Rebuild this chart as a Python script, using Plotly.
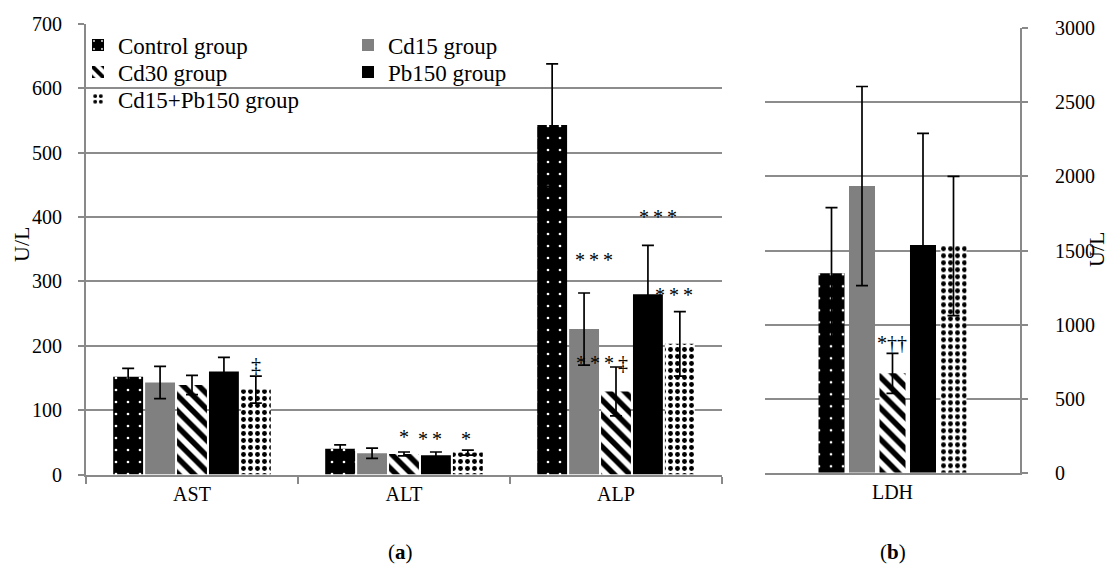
import plotly.graph_objects as go

# ---------------- data ----------------
groups = ["Control group", "Cd15 group", "Cd30 group", "Pb150 group", "Cd15+Pb150 group"]
cats_a = ["AST", "ALT", "ALP"]
cats_b = ["LDH"]

control_a = [152, 40, 543]
cd15_a = [143, 33, 226]
cd30_a = [139, 32, 129]
pb150_a = [160, 30, 280]
combo_a = [132, 34, 203]

control_a_err = [13, 6, 95]
cd15_a_err = [25, 8, 56]
cd30_a_err = [15, 3, 38]
pb150_a_err = [22, 5, 76]
combo_a_err = [21, 4, 50]

control_b = [1346]
cd15_b = [1935]
cd30_b = [671]
pb150_b = [1537]
combo_b = [1530]

control_b_err = [443]
cd15_b_err = [672]
cd30_b_err = [135]
pb150_b_err = [754]
combo_b_err = [470]

# significance marks: (category, text, y value, bar slot)
marks_a = [
    ("AST", "‡", 170, 2.0),
    ("ALT", "*", 66, 0.0),
    ("ALT", "*\u2009*", 63, 0.8),
    ("ALT", "*", 63, 1.95),
    ("ALP", "*\u2009*\u2009*", 341, -0.7),
    ("ALP", "*\u2009*\u2009*\u2009‡", 181, -0.45),
    ("ALP", "*\u2009*\u2009*", 408, 1.3),
    ("ALP", "*\u2009*\u2009*", 287, 1.8),
]
marks_b = [("LDH", "*††", 884, -0.02)]

# ---------------- styles ----------------
FONT = "Liberation Serif, DejaVu Serif, serif"
GRID = "#8c8c8c"
AXIS = "#898989"

styles = {
    "Control group": dict(color="black", pattern=dict(shape=".", bgcolor="black", fgcolor="white",
                                                      size=12, solidity=0.04, fillmode="replace")),
    "Cd15 group": dict(color="#808080"),
    "Cd30 group": dict(color="white", pattern=dict(shape="\\", bgcolor="white", fgcolor="black",
                                                   size=11, solidity=0.5, fillmode="replace")),
    "Pb150 group": dict(color="black"),
    "Cd15+Pb150 group": dict(color="white", pattern=dict(shape=".", bgcolor="white", fgcolor="black",
                                                         size=7, solidity=0.38, fillmode="replace")),
}
# legend slot per group: (legend id, text-left x px, row centre y px)
legend_pos = {
    "Control group": ("legend", 118, 45),
    "Cd30 group": ("legend2", 118, 72),
    "Cd15+Pb150 group": ("legend3", 118, 99),
    "Cd15 group": ("legend4", 388, 45),
    "Pb150 group": ("legend5", 388, 72),
}

vals_a = [control_a, cd15_a, cd30_a, pb150_a, combo_a]
errs_a = [control_a_err, cd15_a_err, cd30_a_err, pb150_a_err, combo_a_err]
vals_b = [control_b, cd15_b, cd30_b, pb150_b, combo_b]
errs_b = [control_b_err, cd15_b_err, cd30_b_err, pb150_b_err, combo_b_err]

# bar geometry (category units)
sp_a, w_a = 0.1506, 0.141
sp_b, w_b = 0.1196, 0.102

fig = go.Figure()
for i, g in enumerate(groups):
    st = styles[g]
    marker = dict(color=st["color"], line=dict(width=0))
    if "pattern" in st:
        marker["pattern"] = st["pattern"]
    fig.add_trace(go.Bar(
        x=cats_a, y=vals_a[i], name=g, marker=marker,
        width=w_a, offset=(i - 2) * sp_a - w_a / 2,
        error_y=dict(type="data", array=errs_a[i], color="black", thickness=1.7, width=6),
        xaxis="x", yaxis="y", legend=legend_pos[g][0], showlegend=True,
    ))
    fig.add_trace(go.Bar(
        x=cats_b, y=vals_b[i], name=g, marker=marker,
        width=w_b, offset=(i - 2) * sp_b - w_b / 2,
        error_y=dict(type="data", array=errs_b[i], color="black", thickness=1.7, width=6),
        xaxis="x2", yaxis="y2", showlegend=False,
    ))

annotations = []
for cat, txt, yv, slot in marks_a:
    annotations.append(dict(x=cat, y=yv, xref="x", yref="y", text=txt, showarrow=False,
                            xshift=slot * 32, yshift=-5 if "*" in txt else 0,
                            font=dict(family=FONT, size=20, color="black")))
for cat, txt, yv, slot in marks_b:
    annotations.append(dict(x=cat, y=yv, xref="x2", yref="y2", text=txt, showarrow=False,
                            xshift=slot * 30.5, yshift=-1,
                            font=dict(family=FONT, size=20, color="black")))

paper_ann = dict(xref="paper", yref="paper", xanchor="center", yanchor="middle", showarrow=False)
annotations += [
    dict(x=21 / 1113, y=1 - 245 / 581, text="U/L", textangle=-90,
         font=dict(family=FONT, size=22, color="black"), **paper_ann),
    dict(x=1096 / 1113, y=1 - 250 / 581, text="U/L", textangle=-90,
         font=dict(family=FONT, size=22, color="black"), **paper_ann),
    dict(x=400 / 1113, y=1 - 552 / 581, text="(<b>a</b>)",
         font=dict(family=FONT, size=21, color="black"), **paper_ann),
    dict(x=893 / 1113, y=1 - 552 / 581, text="(<b>b</b>)",
         font=dict(family=FONT, size=21, color="black"), **paper_ann),
]

legends = {}
for g, (lid, tx, ty) in legend_pos.items():
    legends[lid] = dict(x=(tx - 40) / 1113, y=1 - ty / 581, xanchor="left", yanchor="middle",
                        font=dict(family=FONT, size=23, color="black"), bgcolor="rgba(0,0,0,0)",
                        orientation="v", itemclick=False, itemdoubleclick=False)

fig.update_layout(
    width=1113, height=581,
    margin=dict(l=0, r=0, t=0, b=0, autoexpand=False),
    paper_bgcolor="white", plot_bgcolor="white",
    font=dict(family=FONT, size=20, color="black"),
    barmode="overlay",
    xaxis=dict(domain=[86 / 1113, 722 / 1113], anchor="y", type="category", automargin=False,
               categoryorder="array", categoryarray=cats_a, range=[-0.5, 2.5],
               showline=True, linecolor=AXIS, linewidth=2, ticks="outside", tickson="boundaries",
               ticklen=7, tickcolor=AXIS, tickwidth=2, showgrid=False,
               tickfont=dict(family=FONT, size=20, color="black")),
    yaxis=dict(domain=[1 - 474.5 / 581, 1 - 24 / 581], anchor="x", range=[0, 700], dtick=100,
               automargin=False, ticklabelstandoff=12,
               showline=True, linecolor=AXIS, linewidth=2, ticks="outside", ticklen=6,
               tickcolor=AXIS, tickwidth=2, gridcolor=GRID, gridwidth=1.8, zeroline=False,
               tickfont=dict(family=FONT, size=20, color="black")),
    xaxis2=dict(domain=[765 / 1113, 1020 / 1113], anchor="y2", type="category", automargin=False,
                range=[-0.5, 0.5], showline=True, linecolor=AXIS, linewidth=2, ticks="",
                showgrid=False, tickfont=dict(family=FONT, size=20, color="black")),
    yaxis2=dict(domain=[1 - 472.7 / 581, 1 - 28.3 / 581], anchor="x2", side="right",
                range=[0, 3000], dtick=500, automargin=False, ticklabelstandoff=23,
                showline=True, linecolor=AXIS, linewidth=2,
                ticks="outside", ticklen=6, tickcolor=AXIS, tickwidth=2, gridcolor=GRID,
                gridwidth=1.8, zeroline=False, tickfont=dict(family=FONT, size=20, color="black")),
    annotations=annotations,
    showlegend=True,
    **legends,
)

fig.write_html("out.html", config={"displayModeBar": False},
               post_script="document.body.style.margin='0';")
